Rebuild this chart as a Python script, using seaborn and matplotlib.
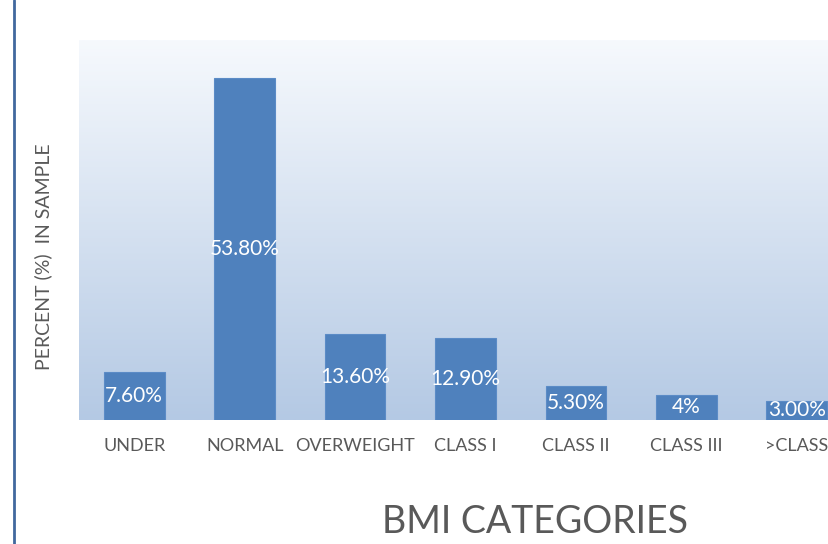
import numpy as np
import matplotlib
matplotlib.use('Agg')
import matplotlib.pyplot as plt
import seaborn as sns
from matplotlib.lines import Line2D

# 数据
categories = ['UNDER', 'NORMAL', 'OVERWEIGHT', 'CLASS I', 'CLASS II', 'CLASS III', '>CLASS']
percent = [7.6, 53.8, 13.6, 12.9, 5.3, 4.0, 3.0]
value_labels = ['7.60%', '53.80%', '13.60%', '12.90%', '5.30%', '4%', '3.00%']

sns.set_theme(style='white')
plt.rcParams['font.family'] = ['Lato', 'DejaVu Sans']

fig = plt.figure(figsize=(8.29, 5.44), dpi=100)
# 绘图区向右超出画布（原图右侧被裁切）
ax = fig.add_axes([0.0953, 0.228, 0.9324, 0.6985])

# 渐变背景
grad = np.linspace(0, 1, 256).reshape(-1, 1)
top_col = np.array([246, 249, 253]) / 255
bot_col = np.array([180, 201, 228]) / 255
img = top_col + (bot_col - top_col) * grad
ax.imshow(img.reshape(256, 1, 3), aspect='auto', extent=[-0.5, 6.5, 0, 59.8],
          origin='upper', zorder=0)

sns.barplot(x=categories, y=percent, color='#4F81BD', saturation=1, width=0.55,
            edgecolor='#5B8BC6', linewidth=0.8, ax=ax, zorder=2)
ax.bar_label(ax.containers[0], labels=value_labels, label_type='center',
             color='white', fontsize=15)

ax.set_xlim(-0.5, 6.5)
ax.set_ylim(0, 59.8)
ax.set_yticks([])
for s in ax.spines.values():
    s.set_visible(False)
ax.tick_params(axis='x', length=0, pad=13, labelsize=13, labelcolor='#595959')

ax.set_ylabel('PERCENT (%)  IN SAMPLE', fontsize=14, color='#595959')
ax.yaxis.set_label_coords(-0.035, 0.43)
ax.set_xlabel('BMI CATEGORIES', fontsize=27, color='#595959')
ax.xaxis.set_label_coords(0.59, -0.222)

# 左侧蓝色边框线
fig.add_artist(Line2D([14.5 / 829, 14.5 / 829], [0, 1], transform=fig.transFigure,
                      color='#41689E', linewidth=2))

fig.savefig('out.png', dpi=100)
